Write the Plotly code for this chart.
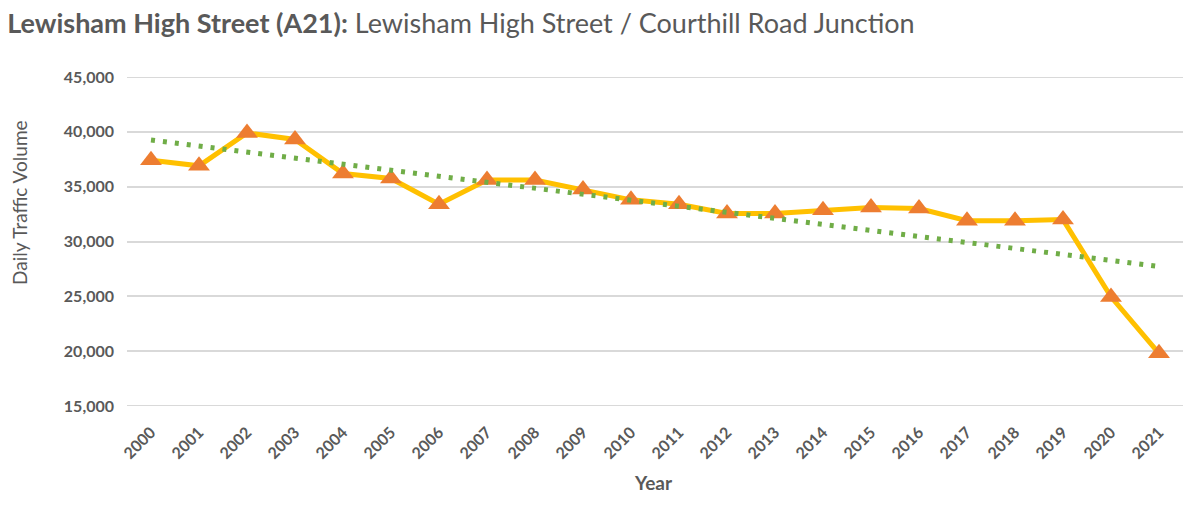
import numpy as np
import plotly.graph_objects as go

years = [str(y) for y in range(2000, 2022)]
traffic = [37400, 36900, 39900, 39300, 36200, 35750, 33400, 35600, 35600, 34750,
           33800, 33400, 32550, 32550, 32850, 33100, 33000, 31900, 31900, 32000,
           24950, 19800]

# linear trendline computed from the data
idx = np.arange(len(traffic))
slope, intercept = np.polyfit(idx, traffic, 1)
trend = slope * idx + intercept

FONT = "Lato"
GREY = "#595959"
W, H = 1200, 519
L, R, T, B = 127, 17, 77, 113
PW, PH = W - L - R, H - T - B
YMIN, YMAX = 15000, 45000

fig = go.Figure()
fig.add_trace(go.Scatter(
    x=years, y=traffic, mode="lines+markers",
    line=dict(color="#FFC000", width=5),
    marker=dict(symbol="triangle-up", size=19, color="#ED7D31"),
    showlegend=False, cliponaxis=False,
))
fig.add_trace(go.Scatter(
    x=years, y=trend, mode="lines",
    line=dict(color="#70AD47", width=5, dash="4px,8px"),
    showlegend=False,
))

fig.update_layout(
    width=W, height=H,
    margin=dict(l=L, r=R, t=T, b=B),
    paper_bgcolor="white", plot_bgcolor="white",
    font=dict(family=FONT, color=GREY),
    title=dict(
        text="<b>Lewisham High Street (A21):</b> Lewisham High Street / Courthill Road Junction",
        x=0.006, xanchor="left", xref="container",
        y=0.955, yanchor="middle", yref="container",
        font=dict(family=FONT, size=27, color=GREY),
    ),
    xaxis=dict(
        type="category", tickangle=-45, automargin=False,
        range=[-0.5, len(years) - 0.5], ticklabelstandoff=13,
        tickfont=dict(family=FONT, size=16, color=GREY, weight="bold"),
        showgrid=False, showline=False, ticks="",
    ),
    yaxis=dict(
        range=[YMIN, YMAX], tickvals=list(range(YMIN, YMAX + 1, 5000)),
        tickformat=",", showgrid=True, gridcolor="#D9D9D9", gridwidth=2,
        zeroline=False, showline=False, ticks="", automargin=False,
        ticklabelstandoff=12,
        tickfont=dict(family=FONT, size=16, color=GREY, weight="bold"),
    ),
    shapes=[
        dict(type="line", xref="paper", yref="y", x0=0, x1=1, y0=v, y1=v,
             line=dict(color="#D9D9D9", width=2), layer="below")
        for v in (YMIN, YMAX)
    ],
    annotations=[
        dict(text="<b>Year</b>", xref="paper", yref="paper",
             x=(653 - L) / PW, y=-(482 - (T + PH)) / PH,
             xanchor="center", yanchor="middle", showarrow=False,
             font=dict(family=FONT, size=19, color=GREY)),
        dict(text="Daily Traffic Volume", xref="paper", yref="paper",
             x=(19 - L) / PW, y=1 - (203 - T) / PH, textangle=-90,
             xanchor="center", yanchor="middle", showarrow=False,
             font=dict(family=FONT, size=19, color=GREY)),
    ],
)

fig.write_html("out.html")
